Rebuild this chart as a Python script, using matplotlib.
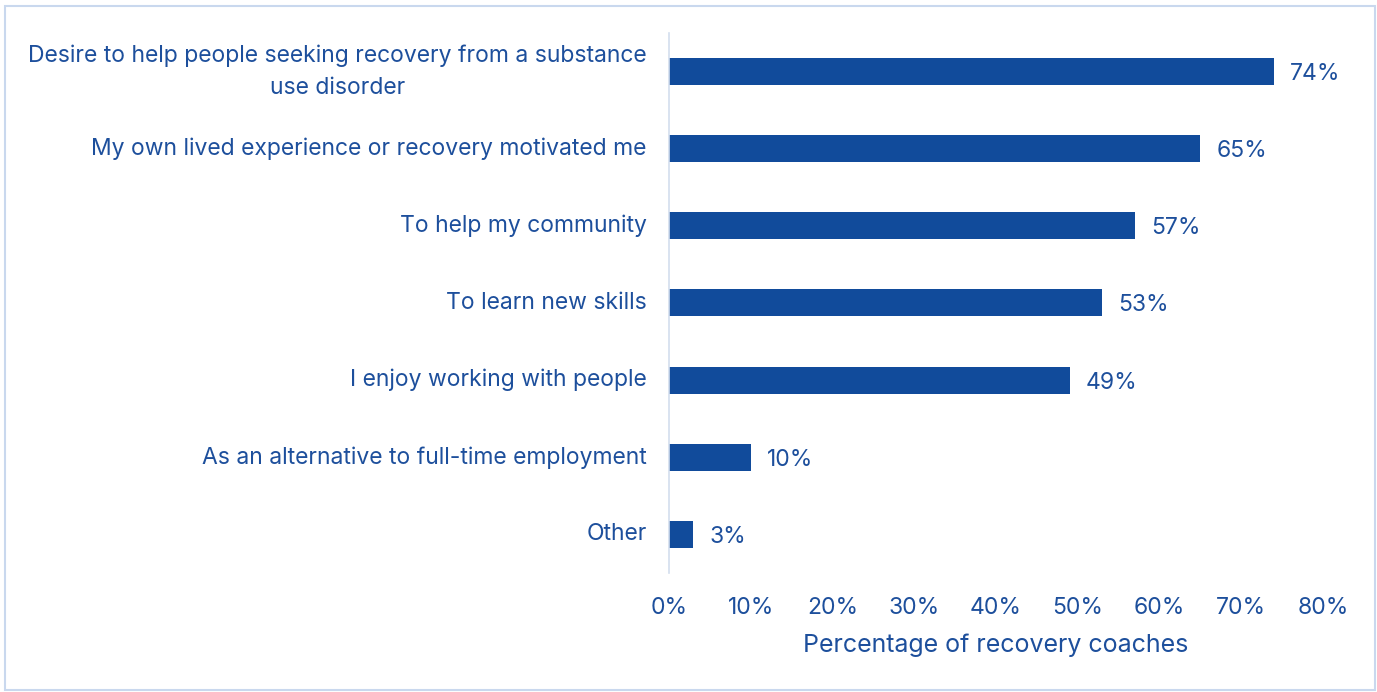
import matplotlib
matplotlib.use("Agg")
import matplotlib.pyplot as plt
from matplotlib.patches import Rectangle
from matplotlib.ticker import FuncFormatter

reasons = [
    "Desire to help people seeking recovery from a substance\nuse disorder",
    "My own lived experience or recovery motivated me",
    "To help my community",
    "To learn new skills",
    "I enjoy working with people",
    "As an alternative to full-time employment",
    "Other",
]
percents = [74, 65, 57, 53, 49, 10, 3]

blue = "#114B9B"
text_blue = "#1D4F9C"

plt.rcParams['font.family'] = ['Inter', 'DejaVu Sans']

fig = plt.figure(figsize=(13.77, 6.92), dpi=100)
ax = fig.add_axes([0.4858, 0.172, 0.475, 0.7803])

y = list(range(len(reasons)))
bars = ax.barh(y, percents, height=0.35, color=blue)
ax.set_ylim(len(reasons) - 0.5, -0.5)
ax.set_xlim(0, 80)

ax.set_yticks(y)
ax.set_yticklabels(reasons, fontsize=16.5, color=text_blue, ha='right', va='center',
                   multialignment='center', linespacing=1.55)
ax.tick_params(axis='y', length=0, pad=16)
ax.set_xticks(range(0, 81, 10))
ax.xaxis.set_major_formatter(FuncFormatter(lambda v, p: '%d%%' % v))
ax.tick_params(axis='x', length=0, pad=17, labelsize=16.5, labelcolor=text_blue)

for rect, p in zip(bars, percents):
    ax.text(rect.get_width() + 2.0, rect.get_y() + rect.get_height() / 2, '%d%%' % p,
            ha='left', va='center_baseline', fontsize=16.5, color=text_blue)

for s in ['top', 'right', 'bottom']:
    ax.spines[s].set_visible(False)
ax.spines['left'].set_color('#D3DEEE')
ax.spines['left'].set_linewidth(1.2)

ax.set_xlabel('Percentage of recovery coaches', fontsize=18, color=text_blue, labelpad=11)

# thin frame round the whole figure
fig.patches.append(Rectangle((5 / 1377, 2 / 692), 1370 / 1377, 684 / 692, transform=fig.transFigure,
                             fill=False, edgecolor='#C9D8EE', linewidth=1.5))

fig.savefig('out.png', dpi=100)
